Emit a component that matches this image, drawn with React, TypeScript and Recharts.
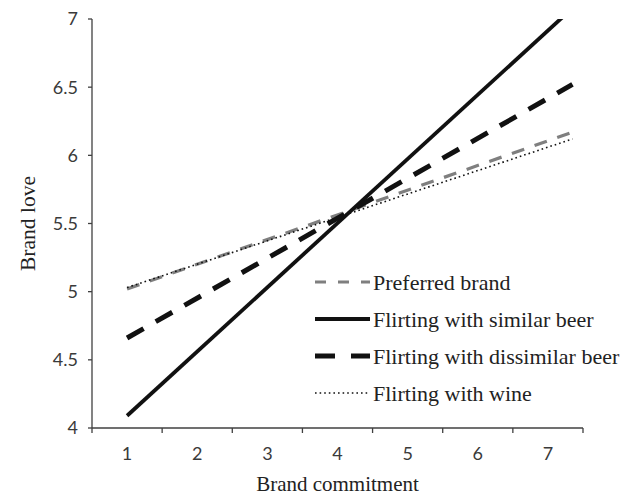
import React from "react";
import { LineChart, Line, XAxis, YAxis, Legend } from "recharts";

// Brand commitment (x) where each fitted line starts / ends
const commitment = [1, 7.35];
// Brand love values of the fitted lines at those points
const preferredBrand = [5.02, 6.17];
const similarBeer = [4.09, 7.08];
const dissimilarBeer = [4.66, 6.52];
const flirtWine = [5.03, 6.12];

const yTicks = [4, 4.5, 5, 5.5, 6, 6.5, 7];
const xLabelTicks = [1, 2, 3, 4, 5, 6, 7];
const xMarkTicks = [0.5, 1.5, 2.5, 3.5, 4.5, 5.5, 6.5, 7.5];

const seriesNames = [
  "Preferred brand",
  "Flirting with similar beer",
  "Flirting with dissimilar beer",
  "Flirting with wine",
];

const data = commitment.map((c, i) => ({
  commitment: c,
  preferred: preferredBrand[i],
  similar: similarBeer[i],
  dissimilar: dissimilarBeer[i],
  wine: flirtWine[i],
}));

const xTicksAll = [...xMarkTicks, ...xLabelTicks].sort((a, b) => a - b);

const tickFont = "Lato, 'Open Sans', sans-serif";
const serif = "'Liberation Serif', 'Times New Roman', serif";
const axisColor = "#404040";
const tickColor = "#3a3a3a";

const XTick = (props: any) => {
  const { x, y, payload } = props;
  const v = payload.value;
  if (Number.isInteger(v)) {
    return (
      <text x={x} y={y + 32} textAnchor="middle" fontSize={18} fontFamily={tickFont} fill={tickColor}>
        {v}
      </text>
    );
  }
  return <line x1={x} x2={x} y1={y} y2={y + 5} stroke={axisColor} strokeWidth={1.3} />;
};

const styles = [
  { key: "preferred", stroke: "#7f7f7f", width: 3.2, dash: "13 11" },
  { key: "similar", stroke: "#111", width: 3.8, dash: undefined },
  { key: "dissimilar", stroke: "#111", width: 5, dash: "19 14" },
  { key: "wine", stroke: "#111", width: 1.6, dash: "1.6 3" },
];

const legendDash = ["11 12", undefined, "20 16", "1.6 3"];

const LegendContent = () => (
  <svg width={330} height={160}>
    {seriesNames.map((name, i) => {
      const cy = 17 + i * 37;
      const s = styles[i];
      return (
        <g key={name}>
          <line x1={0} x2={55} y1={cy} y2={cy} stroke={s.stroke} strokeWidth={s.width} strokeDasharray={legendDash[i]} />
          <text x={58} y={cy + 8} fontSize={22} fontFamily={serif} fill="#222">
            {name}
          </text>
        </g>
      );
    })}
  </svg>
);

export default function App() {
  return (
    <div style={{ position: "absolute", left: 0, top: 0, background: "#fff" }}>
      <LineChart width={638} height={495} data={data} margin={{ top: 19, right: 55, bottom: 0, left: 0 }}>
        <XAxis
          dataKey="commitment"
          type="number"
          domain={[0.5, 7.5]}
          ticks={xTicksAll}
          interval={0}
          tick={<XTick />}
          tickLine={false}
          tickSize={0}
          tickMargin={0}
          height={67}
          stroke={axisColor}
          strokeWidth={1.3}
          label={{
            value: "Brand commitment",
            position: "insideBottom",
            offset: 4,
            fontSize: 21,
            fontFamily: serif,
            fill: "#222",
          }}
        />
        <YAxis
          type="number"
          domain={[4, 7]}
          allowDataOverflow
          ticks={yTicks}
          interval={0}
          width={92}
          tickSize={4}
          tickMargin={10}
          stroke={axisColor}
          strokeWidth={1.3}
          tick={{ fontSize: 18, fontFamily: tickFont, fill: tickColor }}
          label={{
            value: "Brand love",
            angle: -90,
            position: "insideLeft",
            offset: 27,
            fontSize: 21.5,
            fontFamily: serif,
            fill: "#222",
            style: { textAnchor: "middle" },
          }}
        />
        <Legend
          layout="vertical"
          align="center"
          verticalAlign="middle"
          wrapperStyle={{ left: 315, top: 265, width: 330, height: 160 }}
          content={<LegendContent />}
        />
        {styles.map((s, i) => (
          <Line
            key={s.key}
            dataKey={s.key}
            name={seriesNames[i]}
            type="linear"
            stroke={s.stroke}
            strokeWidth={s.width}
            strokeDasharray={s.dash}
            dot={false}
            activeDot={false}
            isAnimationActive={false}
          />
        ))}
      </LineChart>
    </div>
  );
}
